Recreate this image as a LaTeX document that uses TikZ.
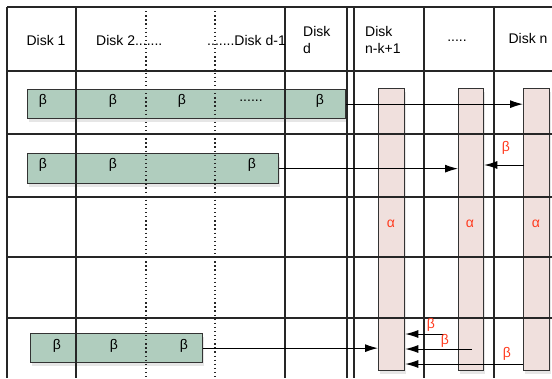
\documentclass[tikz,border=0pt]{standalone}
\usepackage{fontspec}
\setmainfont{Liberation Sans}
\usetikzlibrary{arrows.meta}
\usetikzlibrary{shadows}
\usetikzlibrary{positioning}
\definecolor{betagreen}{RGB}{176,205,190}
\definecolor{alphapink}{RGB}{240,224,221}
\definecolor{labelred}{RGB}{255,59,31}
\tikzset{>={Latex[length=13pt,width=8pt]}}
\tikzset{font=\fontsize{14}{17}\selectfont}

\begin{document}
\begin{tikzpicture}[x=1pt,y=-1pt]
    % styles for the table, the stripes and the labels
    \tikzstyle{gridline} = [line width=1.1pt, black!85]
    \tikzstyle{gapline}  = [line width=1.1pt, black!85, dash pattern=on 1.3pt off 2.8pt]
    \tikzstyle{betabox}  = [draw=black!80, line width=1.3pt, fill=betagreen, anchor=north west, inner sep=0pt,
                            drop shadow={opacity=.2, shadow xshift=1pt, shadow yshift=-3pt}]
    \tikzstyle{alphabox} = [draw=black!80, line width=1.3pt, fill=alphapink, anchor=north west, inner sep=0pt,
                            drop shadow={opacity=.2, shadow xshift=1pt, shadow yshift=-3pt}]
    \tikzstyle{redlbl}   = [text=labelred]
    \tikzstyle{feed}     = [line width=1pt, ->]

    % Table geometry (pixel units)
    \def\tabtop    {7}      % top edge of the table
    \def\tableft   {7}      % left edge of the table
    \def\tabright  {552}    % right edge (cut off)
    \def\tabbottom {378}    % bottom edge (cut off)

    \useasboundingbox (0,0) rectangle (\tabright,\tabbottom);

    % the beta stripes (data disks)
    \node[betabox, minimum width=318pt, minimum height=29pt] (row1) at (27,89)  {};
    \node[betabox, minimum width=251pt, minimum height=30pt] (row2) at (27,153) {};
    \node[betabox, minimum width=172pt, minimum height=29pt] (row3) at (30,333) {};

    % the alpha stripes (parity disks)
    \node[alphabox, minimum width=26pt, minimum height=282pt] (a1) at (378,88) {};
    \node[alphabox, minimum width=25pt, minimum height=282pt] (a2) at (458,88) {};
    \node[alphabox, minimum width=26pt, minimum height=282pt] (a3) at (523,88) {};

    % draw the table
    \draw[gridline] (\tableft,\tabtop) -- (\tabright,\tabtop);
    \foreach \y in {71,134,197,257,318}
        \draw[gridline] (\tableft,\y) -- (\tabright,\y);
    \draw[line width=1.8pt, black!85] (\tableft,\tabtop) -- (\tableft,\tabbottom);
    \foreach \x in {76,285,347,354,424,494}
        \draw[gridline] (\x,\tabtop) -- (\x,\tabbottom);
    \foreach \x in {146,215}
        \draw[gapline] (\x,\tabtop) -- (\x,\tabbottom);

    % header
    \node (d1)   at (46,40)  {Disk 1};
    \node[anchor=west, inner sep=0pt] (d2) at (96,40) {Disk 2.......};
    \node[anchor=east, inner sep=0pt] (dd1) at (286,40) {.......Disk d-1};
    \node[anchor=west, align=left, inner sep=0pt] (dd) at (303,40) {Disk\\d};
    \node[anchor=west, align=left, inner sep=0pt] (dk) at (365,40) {Disk\\n-k+1};
    \node (ddots) at (457,41) {.....};
    \node (dn)   at (528,38) {Disk n};

    % labels in the stripes
    \foreach \x [count=\i] in {43,113,182}
        \node (b1\i) at (\x,101) {β};
    \node (b14) at (251,101) {......};
    \node (b15) at (320,101) {β};
    \foreach \x [count=\i] in {43,113,252}
        \node (b2\i) at (\x,165) {β};
    \foreach \x [count=\i] in {57,114,184}
        \node (b3\i) at (\x,346) {β};
    \node[redlbl] (p1) at (391,224) {α};
    \node[redlbl] (p2) at (470,224) {α};
    \node[redlbl] (p3) at (536,224) {α};

    % transfers between the stripes
    \draw[feed] (row1.east) -- (row1.east -| a3.west);
    \draw[feed] (row2.east) -- (row2.east -| a2.west);
    \coordinate (s2) at (524,165);
    \draw[feed] (s2) -- (s2 -| a2.east);
    \node[redlbl] (r2) at (506,148) {β};

    \draw[feed] (row3.east) -- (row3.east -| a1.west);
    \coordinate (s3a) at (444,334);
    \coordinate (s3b) at (472,349);
    \coordinate (s3c) at (a3.west |- 0,364);
    \draw[feed] (s3a) -- (s3a -| a1.east);
    \draw[feed] (s3b) -- (s3b -| a1.east);
    \draw[feed] (s3c) -- (s3c -| a1.east);
    \node[redlbl] (r3a) at (431,325) {β};
    \node[redlbl] (r3b) at (445,341) {β};
    \node[redlbl] (r3c) at (507,354) {β};

\end{tikzpicture}
\end{document}
